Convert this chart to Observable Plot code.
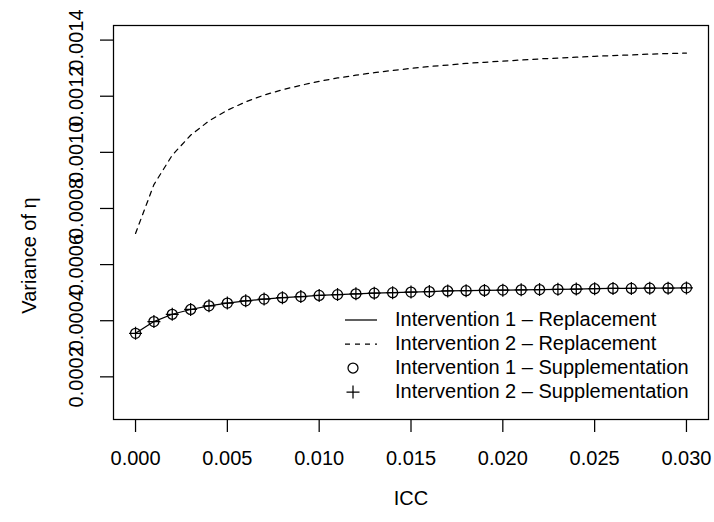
<!DOCTYPE html>
<html>
<head>
<meta charset="utf-8">
<script src="https://cdn.jsdelivr.net/npm/d3@7"></script>
<script src="https://cdn.jsdelivr.net/npm/@observablehq/plot@0.6"></script>
<style>
  html, body { margin: 0; padding: 0; background: #ffffff; }
  #chart { width: 714px; height: 522px; }
</style>
</head>
<body>
<div id="chart"></div>
<script>
// ---- data ----
const icc = [0.000, 0.001, 0.002, 0.003, 0.004, 0.005, 0.006, 0.007, 0.008, 0.009,
             0.010, 0.011, 0.012, 0.013, 0.014, 0.015, 0.016, 0.017, 0.018, 0.019,
             0.020, 0.021, 0.022, 0.023, 0.024, 0.025, 0.026, 0.027, 0.028, 0.029, 0.030];

// Intervention 1 – Replacement (solid line)
const int1Replacement = [0.000355, 0.000397, 0.000423, 0.000440, 0.000453, 0.000463, 0.000471, 0.000477,
                         0.000482, 0.000486, 0.000490, 0.000493, 0.000496, 0.000498, 0.000500, 0.000502,
                         0.000504, 0.000506, 0.000507, 0.000508, 0.000509, 0.000510, 0.000511, 0.000512,
                         0.000513, 0.000514, 0.000515, 0.000515, 0.000516, 0.000516, 0.000517];

// Intervention 2 – Replacement (dashed line)
const int2Replacement = [0.000711, 0.000885, 0.000990, 0.001061, 0.001112, 0.001150, 0.001180, 0.001204,
                         0.001223, 0.001239, 0.001253, 0.001265, 0.001275, 0.001284, 0.001292, 0.001299,
                         0.001306, 0.001311, 0.001317, 0.001321, 0.001325, 0.001329, 0.001333, 0.001336,
                         0.001339, 0.001342, 0.001345, 0.001347, 0.001350, 0.001352, 0.001354];

// Intervention 1 – Supplementation (circles)
const int1Supplementation = [0.000355, 0.000397, 0.000423, 0.000440, 0.000453, 0.000463, 0.000471, 0.000477,
                             0.000482, 0.000486, 0.000490, 0.000493, 0.000496, 0.000498, 0.000500, 0.000502,
                             0.000504, 0.000506, 0.000507, 0.000508, 0.000509, 0.000510, 0.000511, 0.000512,
                             0.000513, 0.000514, 0.000515, 0.000515, 0.000516, 0.000516, 0.000517];

// Intervention 2 – Supplementation (plus signs)
const int2Supplementation = [0.000355, 0.000397, 0.000423, 0.000440, 0.000453, 0.000463, 0.000471, 0.000477,
                             0.000482, 0.000486, 0.000490, 0.000493, 0.000496, 0.000498, 0.000500, 0.000502,
                             0.000504, 0.000506, 0.000507, 0.000508, 0.000509, 0.000510, 0.000511, 0.000512,
                             0.000513, 0.000514, 0.000515, 0.000515, 0.000516, 0.000516, 0.000517];

const xTicks = [0.000, 0.005, 0.010, 0.015, 0.020, 0.025, 0.030];
const yTicks = [0.0002, 0.0004, 0.0006, 0.0008, 0.0010, 0.0012, 0.0014];

const legendLabels = ["Intervention 1 \u2013 Replacement", "Intervention 2 \u2013 Replacement",
                      "Intervention 1 \u2013 Supplementation", "Intervention 2 \u2013 Supplementation"];

const xLabel = "ICC";
const yLabel = "Variance of \u03b7";

// ---- build tables ----
const rows = (vals) => icc.map((x, i) => ({x, y: vals[i]}));
const r1 = rows(int1Replacement);
const r2 = rows(int2Replacement);
const s1 = rows(int1Supplementation);
const s2 = rows(int2Supplementation);

const FONT = "'Liberation Sans', Arial, Helvetica, sans-serif";
const LW = 1.25;
const PLUS_HALF = 6.5;
const plusSymbol = {
  draw(context) {
    context.moveTo(-PLUS_HALF, 0); context.lineTo(PLUS_HALF, 0);
    context.moveTo(0, -PLUS_HALF); context.lineTo(0, PLUS_HALF);
  }
};

const chart = Plot.plot({
  width: 714,
  height: 522,
  marginLeft: 113,
  marginRight: 6,
  marginTop: 25,
  marginBottom: 103,
  style: {fontFamily: FONT, fontSize: "20px", background: "#ffffff", color: "#000000"},
  x: {domain: [-0.0012, 0.0312]},
  y: {domain: [0.000048, 0.001452]},
  marks: [
    Plot.axisX({ticks: xTicks, tickSize: 13, tickPadding: 18, tickFormat: d3.format(".3f"),
                fontSize: 20, label: null, strokeWidth: LW}),
    Plot.axisY({ticks: yTicks, tickSize: 13, tickFormat: () => "", label: null, strokeWidth: LW}),
    Plot.text(yTicks, {y: d => d, frameAnchor: "left", dx: -36.5, rotate: -90, textAnchor: "middle",
                       text: d => d3.format(".4f")(d), fontSize: 20, fill: "#000"}),
    Plot.text([xLabel], {frameAnchor: "bottom", dy: 85, textAnchor: "middle", text: d => d, fontSize: 20, fill: "#000"}),
    Plot.text([yLabel], {frameAnchor: "left", dx: -84, dy: 33, rotate: -90, textAnchor: "middle",
                         text: d => d, fontSize: 20, fill: "#000"}),
    Plot.line(r1, {x: "x", y: "y", stroke: "#000", strokeWidth: LW}),
    Plot.line(r2, {x: "x", y: "y", stroke: "#000", strokeWidth: LW, strokeDasharray: "5,5"}),
    Plot.dot(s1, {x: "x", y: "y", r: 5, stroke: "#000", fill: "none", strokeWidth: LW}),
    Plot.dot(s2, {x: "x", y: "y", r: 5, symbol: plusSymbol, stroke: "#000", fill: "none", strokeWidth: LW}),
    Plot.frame({stroke: "#000", strokeWidth: LW})
  ]
});

// ---- legend (bottom-right, inside the frame, no box) ----
const svg = d3.select(chart);
const lg = svg.append("g").attr("font-family", FONT).attr("font-size", 20).attr("text-anchor", "start");
const rowY = [320, 344, 368, 392];
const segX1 = 345, segX2 = 377, ptX = 353, txtX = 395;
lg.append("line").attr("x1", segX1).attr("x2", segX2).attr("y1", rowY[0]).attr("y2", rowY[0])
  .attr("stroke", "#000").attr("stroke-width", LW);
lg.append("line").attr("x1", segX1).attr("x2", segX2).attr("y1", rowY[1]).attr("y2", rowY[1])
  .attr("stroke", "#000").attr("stroke-width", LW).attr("stroke-dasharray", "5,5");
lg.append("circle").attr("cx", ptX).attr("cy", rowY[2]).attr("r", 5)
  .attr("fill", "none").attr("stroke", "#000").attr("stroke-width", LW);
lg.append("path").attr("d", `M${ptX - PLUS_HALF},${rowY[3]}H${ptX + PLUS_HALF}M${ptX},${rowY[3] - PLUS_HALF}V${rowY[3] + PLUS_HALF}`)
  .attr("fill", "none").attr("stroke", "#000").attr("stroke-width", LW);
legendLabels.forEach((t, i) => {
  lg.append("text").attr("x", txtX).attr("y", rowY[i]).attr("dy", "0.32em")
    .attr("text-anchor", "start").attr("fill", "#000").text(t);
});

document.getElementById("chart").appendChild(chart);
</script>
</body>
</html>
